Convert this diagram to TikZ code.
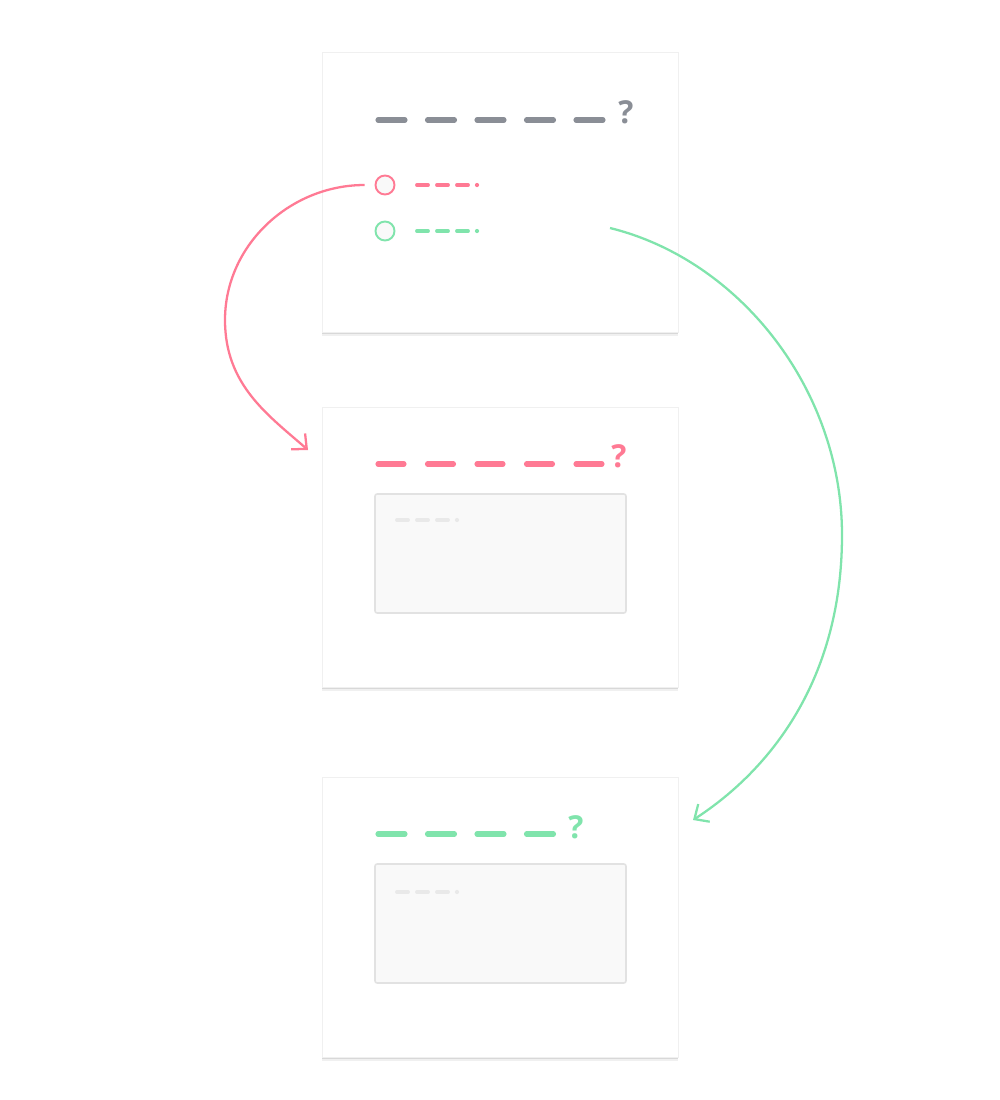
\documentclass[tikz,border=0pt]{standalone}
\usepackage{fontspec}
\setmainfont{Open Sans}
\usetikzlibrary{arrows.meta,shadows}
\definecolor{slate}{HTML}{8A8E96}
\definecolor{rose}{HTML}{FF7A94}
\definecolor{mint}{HTML}{80E4AC}
\definecolor{pale}{HTML}{E9E9E9}
\definecolor{boxfill}{HTML}{F9F9F9}
\definecolor{boxline}{HTML}{E2E2E2}
\tikzset{
  card/.style={draw=black!6, fill=white, minimum width=7.12cm, minimum height=5.6cm,
    drop shadow={shadow xshift=0pt, shadow yshift=-2.4pt, opacity=0.06, fill=black},
    drop shadow={shadow xshift=0pt, shadow yshift=-1.2pt, opacity=0.1, fill=black}},
  panel/.style={draw=boxline, fill=boxfill, line width=0.9pt, rounded corners=1.2pt,
    minimum width=5.02cm, minimum height=2.38cm},
  bar/.style={line width=2.9pt, line cap=round},
  tick/.style={line width=2.2pt, line cap=round},
  ask/.style={font=\fontsize{18}{18}\selectfont\bfseries, inner sep=0pt},
  option/.style={circle, fill=boxfill, line width=1.1pt, minimum size=0.38cm, inner sep=0pt},
  jump/.style={line width=1.3pt, -{Straight Barb[length=6.5pt, width=12pt]}}
}

\begin{document}
\begin{tikzpicture}[x=0.02cm, y=-0.02cm]
  \useasboundingbox (0,0) rectangle (1000,1100);

  % cards
  \node[card] (question) at (500,192) {};
  \node[card] (reply)    at (500,547) {};
  \node[card] (answer)   at (500,917) {};
  \node[panel] (replybox)  at (500.5,553.5) {};
  \node[panel] (answerbox) at (500.5,923.5) {};

  % titles
  \foreach \i in {0,...,4}
    \draw[bar,slate] (378+49.5*\i,120) -- ++(27,0);
  \node[ask,slate] (qmark) at (626,112) {?};
  \foreach \i in {0,...,4}
    \draw[bar,rose] (378+49.5*\i,464) -- ++(26,0);
  \node[ask,rose] (rmark) at (619,456) {?};
  \foreach \i in {0,...,3}
    \draw[bar,mint] (378+49.5*\i,834) -- ++(27,0);
  \node[ask,mint] (amark) at (576,827) {?};

  % options and hint lines
  \node[option,draw=rose] (redopt)   at (385,185) {};
  \node[option,draw=mint] (greenopt) at (385,231) {};
  \foreach \c/\x/\y in {rose/417/185,mint/417/231,pale/397/520,pale/397/892} {
    \foreach \i in {0,1,2}
      \draw[tick,\c] (\x+20*\i,\y) -- ++(11,0);
    \fill[\c] (\x+60,\y) circle (1.2pt);
  }

  % connectors
  \coordinate (redin)    at (308,450);
  \coordinate (greenout) at (610,228);
  \coordinate (greenin)  at (693,820);
  \draw[jump,rose] ([xshift=-0.2cm]redopt.west)
    .. controls (290,185) and (225,245) .. (225,320)
    .. controls (225,385) and (268,415) .. (redin);
  \draw[jump,mint] (greenout)
    .. controls (740,260) and (842,390) .. (842,535)
    .. controls (842,680) and (770,770) .. (greenin);
\end{tikzpicture}
\end{document}
